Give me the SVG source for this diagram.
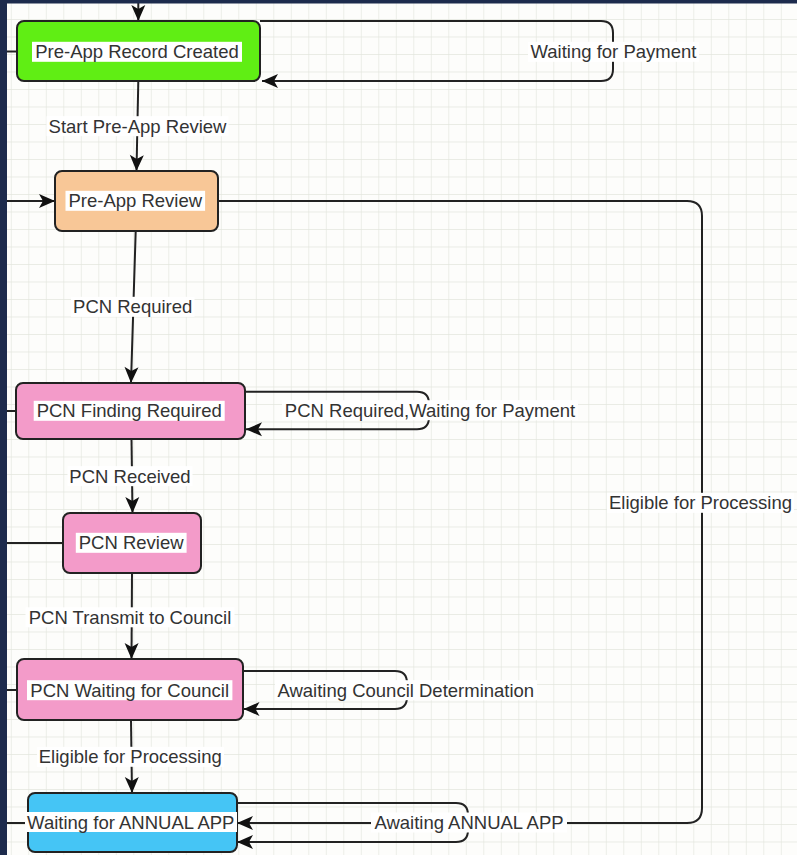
<svg xmlns="http://www.w3.org/2000/svg" width="797" height="855" viewBox="0 0 797 855">
<style>
.t{font-family:"Liberation Sans",Arial,sans-serif;font-size:18.5px;fill:#333;text-anchor:middle}
.e{fill:none;stroke:#222;stroke-width:2}
.box{stroke:#222;stroke-width:2}
.lbg{fill:#fff}
</style>
<defs>
<pattern id="grid" x="10.8" y="1.5" width="17.5" height="17.5" patternUnits="userSpaceOnUse">
<path d="M0,0 H17.5 M0,0 V17.5" fill="none" stroke="#e3e6de" stroke-width="1.3"/>
</pattern>
<marker id="arr" markerUnits="userSpaceOnUse" viewBox="-17 -8 18 16" refX="0" refY="0" markerWidth="18" markerHeight="16" orient="auto">
<path d="M0,0 L-16,-7 L-12,0 L-16,7 Z" fill="#111"/>
</marker>
</defs>
<rect width="797" height="855" fill="#fdfdfb"/>
<rect width="797" height="855" fill="url(#grid)"/>

<g id="connectors">
<path class="e" d="M138.3,0 V21" marker-end="url(#arr)"/>
<path class="e" d="M0,51.5 H17"/>
<path class="e" d="M0,201 H55" marker-end="url(#arr)"/>
<path class="e" d="M0,411 H16"/>
<path class="e" d="M0,543 H63"/>
<path class="e" d="M0,690 H17"/>
<path class="e" d="M0,823 H28"/>
<path class="e" d="M260,21 H601 Q613,21 613,33 V69 Q613,81 601,81 H262" marker-end="url(#arr)"/>
<path class="e" d="M138.3,81 L136.5,171" marker-end="url(#arr)"/>
<path class="e" d="M218,201 H687 Q702,201 702,216 V808 Q702,823 687,823 H237" marker-end="url(#arr)"/>
<path class="e" d="M135.7,231 L131,383" marker-end="url(#arr)"/>
<path class="e" d="M245,391.7 H417 Q429,391.7 429,403.7 V417.3 Q429,429.3 417,429.3 H246" marker-end="url(#arr)"/>
<path class="e" d="M131.5,439 L132.5,513" marker-end="url(#arr)"/>
<path class="e" d="M132,573 L131.5,659" marker-end="url(#arr)"/>
<path class="e" d="M243,671 H395 Q407,671 407,683 V697 Q407,709 395,709 H243.5" marker-end="url(#arr)"/>
<path class="e" d="M131,720 L132,793" marker-end="url(#arr)"/>
<path class="e" d="M237,803 H456 Q468,803 468,815 V830 Q468,842 456,842 H237" marker-end="url(#arr)"/>

<g id="edge-labels">
<rect class="lbg" x="46.5" y="116.2" width="182" height="20"/>
<text class="t" x="137.5" y="132.7">Start Pre-App Review</text>
<rect class="lbg" x="528" y="41.8" width="171" height="20"/>
<text class="t" x="613.5" y="58.3">Waiting for Payment</text>
<rect class="lbg" x="71" y="296.8" width="123.5" height="20"/>
<text class="t" x="132.7" y="313.3">PCN Required</text>
<rect class="lbg" x="282" y="400.2" width="296" height="20"/>
<text class="t" x="430" y="416.7">PCN Required,Waiting for Payment</text>
<rect class="lbg" x="607" y="492.8" width="187" height="20"/>
<text class="t" x="700.5" y="509.3">Eligible for Processing</text>
<rect class="lbg" x="67.5" y="466.2" width="125" height="20"/>
<text class="t" x="130" y="482.7">PCN Received</text>
<rect class="lbg" x="25.5" y="607.3" width="209" height="20"/>
<text class="t" x="130" y="623.8">PCN Transmit to Council</text>
<rect class="lbg" x="275" y="680.2" width="262" height="20"/>
<text class="t" x="405.8" y="696.7">Awaiting Council Determination</text>
<rect class="lbg" x="37" y="746.8" width="187" height="20"/>
<text class="t" x="130.3" y="763.3">Eligible for Processing</text>
<rect class="lbg" x="371" y="812.5" width="196" height="20"/>
<text class="t" x="469" y="829">Awaiting ANNUAL APP</text>
</g>
</g>

<g id="node-pre-app-record-created">
<rect class="box" x="17" y="21" width="243" height="60" rx="7" fill="#60ee14"/>
<rect class="lbg" x="32" y="41.8" width="210" height="20"/>
<text class="t" x="137" y="58.3">Pre-App Record Created</text>
</g>
<g id="node-pre-app-review">
<rect class="box" x="55" y="171" width="163" height="60" rx="7" fill="#f8c797"/>
<rect class="lbg" x="65.5" y="190.8" width="139.6" height="20"/>
<text class="t" x="135.3" y="207.3">Pre-App Review</text>
</g>
<g id="node-pcn-finding-required">
<rect class="box" x="16" y="383" width="229" height="56" rx="7" fill="#f39bc9"/>
<rect class="lbg" x="33.7" y="400.8" width="191" height="20"/>
<text class="t" x="129.2" y="417.3">PCN Finding Required</text>
</g>
<g id="node-pcn-review">
<rect class="box" x="63" y="513" width="138" height="60" rx="7" fill="#f39bc9"/>
<rect class="lbg" x="75.8" y="532.8" width="110.8" height="20"/>
<text class="t" x="131.2" y="549.3">PCN Review</text>
</g>
<g id="node-pcn-waiting-for-council">
<rect class="box" x="17" y="659" width="226" height="61" rx="7" fill="#f39bc9"/>
<rect class="lbg" x="27" y="680.2" width="205.4" height="20"/>
<text class="t" x="129.7" y="696.7">PCN Waiting for Council</text>
</g>
<g id="node-waiting-for-annual-app">
<rect class="box" x="28" y="793" width="209" height="59" rx="7" fill="#45c5f5"/>
<rect class="lbg" x="25" y="812" width="212" height="20"/>
<text class="t" x="130.8" y="829">Waiting for ANNUAL APP</text>
</g>

<g id="frame">
<rect x="0" y="0" width="797" height="3.5" fill="#1d2b4d"/>
<rect x="0" y="0" width="7" height="855" fill="#1d2b4d"/>
</g>
</svg>
